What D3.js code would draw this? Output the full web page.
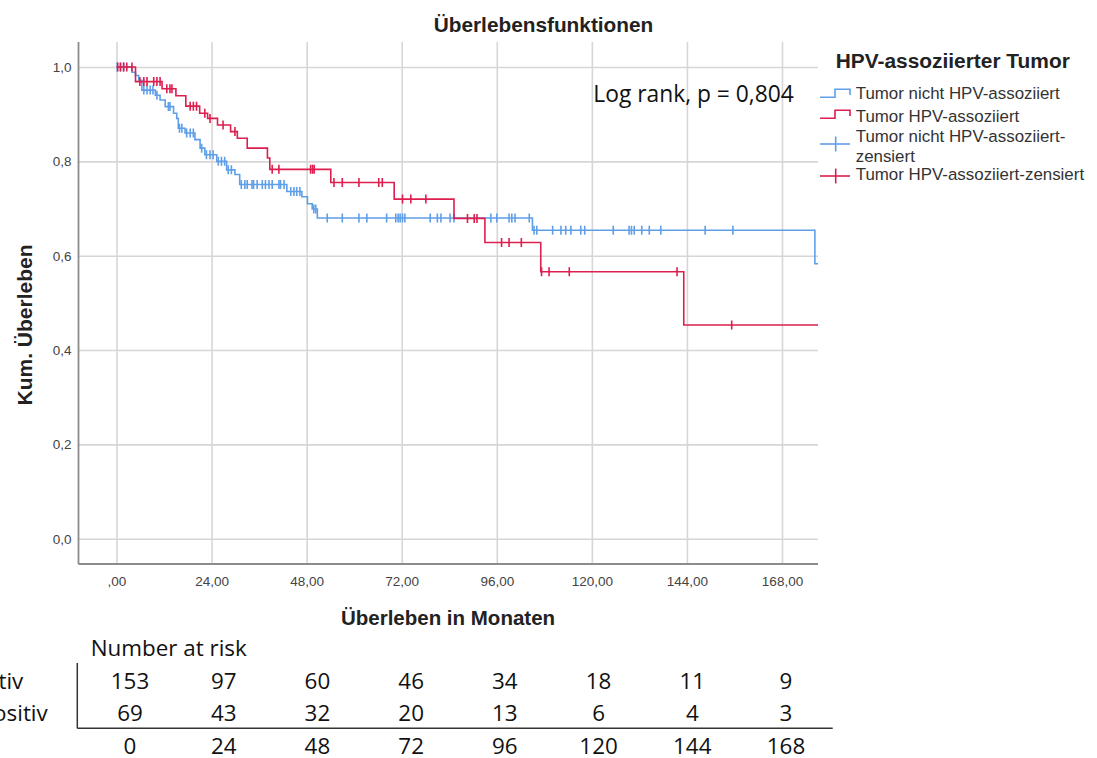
<!DOCTYPE html>
<html>
<head>
<meta charset="utf-8">
<script src="https://cdn.jsdelivr.net/npm/d3@7"></script>
<style>
  body { margin: 0; background: #fff; }
  svg { display: block; }
</style>
</head>
<body>
<svg id="chart" width="1097" height="758"></svg>
<script>
// Kaplan–Meier steps: time (months) of each drop and survival after it
const negTimes = [0, 3.9, 4.8, 5.6, 6.4, 9.8, 11.0, 12.3, 14.4, 15.2, 15.6, 17.3, 19.8, 21.1, 22.3, 25.3, 27.8, 29.9, 31.1, 43.0, 46.8, 48.2, 49.4, 50.7, 105.0, 176.3];
const negSurv  = [1.0, 0.989, 0.982, 0.972, 0.951, 0.940, 0.930, 0.916, 0.902, 0.891, 0.870, 0.860, 0.846, 0.828, 0.814, 0.800, 0.782, 0.772, 0.751, 0.736, 0.725, 0.710, 0.699, 0.680, 0.654, 0.583];
const negEnd = 177.1;
const negCensored = [0.2, 1.0, 1.8, 6.9, 7.7, 8.5, 9.2, 10.2, 13.1, 13.5, 15.9, 16.5, 17.7, 18.6, 19.4, 21.5, 22.7, 23.6, 24.4, 25.7, 26.5, 27.3, 28.2, 29.0, 31.5, 32.4, 33.0, 34.2, 34.6, 35.5, 36.8, 37.6, 38.5, 39.3, 41.0, 41.4, 42.3, 44.0, 44.8, 45.5, 46.3, 49.8, 50.3, 53.2, 57.0, 61.2, 63.2, 68.2, 70.5, 71.1, 71.6, 72.2, 72.8, 79.2, 81.0, 81.9, 84.2, 85.2, 94.5, 96.0, 99.1, 99.8, 100.6, 104.2, 105.4, 106.1, 110.1, 112.2, 113.4, 114.7, 117.2, 118.2, 125.4, 129.4, 130.0, 130.7, 132.6, 134.5, 137.4, 148.6, 155.6];

const posTimes = [0, 4.8, 11.5, 15.0, 17.5, 21.0, 23.0, 25.5, 28.8, 30.5, 33.0, 38.1, 38.7, 54.1, 70.1, 85.2, 93.0, 107.1, 143.2];
const posSurv  = [1.0, 0.969, 0.954, 0.939, 0.917, 0.902, 0.891, 0.877, 0.863, 0.849, 0.828, 0.807, 0.783, 0.755, 0.720, 0.679, 0.628, 0.566, 0.453];
const posEnd = 177.1;
const posCensored = [0.3, 1.0, 1.8, 2.6, 3.9, 5.9, 6.9, 7.7, 9.4, 10.2, 11.0, 12.7, 13.5, 14.0, 18.6, 19.4, 20.2, 22.3, 23.6, 26.9, 29.9, 39.3, 41.0, 49.0, 49.5, 49.9, 54.9, 57.0, 61.2, 66.2, 67.1, 72.2, 74.3, 78.1, 88.6, 90.3, 91.0, 97.2, 99.1, 102.2, 107.3, 109.2, 114.3, 141.5, 155.3];

// axis ticks
const xTickValues = [0, 24, 48, 72, 96, 120, 144, 168];
const yTickValues = [0, 0.2, 0.4, 0.6, 0.8, 1.0];

// number-at-risk table
const riskTimes = [0, 24, 48, 72, 96, 120, 144, 168];
const riskNegativ = [153, 97, 60, 46, 34, 18, 11, 9];
const riskPositiv = [69, 43, 32, 20, 13, 6, 4, 3];
const riskRowLabels = ["HPV-negativ", "HPV-positiv"];

const groupNames = ["Tumor nicht HPV-assoziiert", "Tumor HPV-assoziiert"];
const censorNames = [["Tumor nicht HPV-assoziiert-", "zensiert"], ["Tumor HPV-assoziiert-zensiert"]];

const BLUE = "#5f9fe8";
const RED = "#dc1f4e";
const GRID = "#d6d6d6";
const AXIS = "#8c8c8c";
const ARIAL = "'Liberation Sans', Arial, sans-serif";
const OFFICE = "'Open Sans', 'Noto Sans', sans-serif";

const svg = d3.select("#chart");

// plot frame
const plot = { left: 78.5, right: 818, top: 42, bottom: 564 };
const x = d3.scaleLinear().domain([0, 168]).range([116.5, 782]);
const y = d3.scaleLinear().domain([0, 1]).range([538.7, 67]);

const fmtX = d => d === 0 ? ",00" : d.toFixed(2).replace(".", ",");
const fmtY = d => d.toFixed(1).replace(".", ",");

// gridlines + tick labels
const xAxis = svg.append("g")
  .attr("transform", `translate(0,${plot.bottom})`)
  .call(d3.axisBottom(x).tickValues(xTickValues).tickFormat(fmtX)
    .tickSize(-(plot.bottom - plot.top)).tickPadding(12));
const yAxis = svg.append("g")
  .attr("transform", `translate(${plot.left},0)`)
  .call(d3.axisLeft(y).tickValues(yTickValues).tickFormat(fmtY)
    .tickSize(-(plot.right - plot.left)).tickPadding(7));

[xAxis, yAxis].forEach(g => {
  g.select(".domain").remove();
  g.selectAll(".tick line").attr("stroke", GRID).attr("stroke-width", 1.6);
  g.selectAll(".tick text")
    .attr("font-family", ARIAL).attr("font-size", 13.5).attr("fill", "#444");
});

// axis lines
svg.append("line")
  .attr("x1", plot.left).attr("x2", plot.left)
  .attr("y1", plot.top).attr("y2", plot.bottom)
  .attr("stroke", AXIS).attr("stroke-width", 1.8);
svg.append("line")
  .attr("x1", plot.left).attr("x2", plot.right)
  .attr("y1", plot.bottom).attr("y2", plot.bottom)
  .attr("stroke", AXIS).attr("stroke-width", 1.8);

// titles
svg.append("text")
  .attr("x", 543.5).attr("y", 32.3).attr("text-anchor", "middle")
  .attr("font-family", ARIAL).attr("font-weight", "bold").attr("font-size", 20.8)
  .attr("fill", "#222").text("Überlebensfunktionen");
svg.append("text")
  .attr("x", 448).attr("y", 625).attr("text-anchor", "middle")
  .attr("font-family", ARIAL).attr("font-weight", "bold").attr("font-size", 20.5)
  .attr("fill", "#222").text("Überleben in Monaten");
svg.append("text")
  .attr("transform", "translate(32,325) rotate(-90)").attr("text-anchor", "middle")
  .attr("font-family", ARIAL).attr("font-weight", "bold").attr("font-size", 21)
  .attr("fill", "#222").text("Kum. Überleben");

// survival curves
svg.append("clipPath").attr("id", "plotClip")
  .append("rect")
  .attr("x", plot.left).attr("y", plot.top)
  .attr("width", plot.right - plot.left).attr("height", plot.bottom - plot.top);

const survivalAt = (times, surv, t) => {
  let s = surv[0];
  for (let i = 0; i < times.length; i++) if (times[i] <= t) s = surv[i];
  return s;
};

const stepLine = d3.line()
  .x(d => x(d[0])).y(d => y(d[1]))
  .curve(d3.curveStepAfter);

const curves = svg.append("g").attr("clip-path", "url(#plotClip)");

function drawGroup(times, surv, end, censored, color) {
  const pts = times.map((t, i) => [t, surv[i]]);
  pts.push([end, surv[surv.length - 1]]);
  curves.append("path")
    .attr("d", stepLine(pts))
    .attr("fill", "none").attr("stroke", color).attr("stroke-width", 1.6);
  curves.append("g").selectAll("line")
    .data(censored)
    .join("line")
    .attr("x1", t => x(t)).attr("x2", t => x(t))
    .attr("y1", t => y(survivalAt(times, surv, t)) - 4.5)
    .attr("y2", t => y(survivalAt(times, surv, t)) + 4.5)
    .attr("stroke", color).attr("stroke-width", 1.6);
}

drawGroup(negTimes, negSurv, negEnd, negCensored, BLUE);
drawGroup(posTimes, posSurv, posEnd, posCensored, RED);

// log-rank annotation
svg.append("text")
  .attr("x", 593.3).attr("y", 101.7)
  .attr("font-family", OFFICE).attr("font-size", 22.8).attr("fill", "#111")
  .text("Log rank, p = 0,804");

// legend
const legend = svg.append("g");
legend.append("text")
  .attr("x", 835.7).attr("y", 68.3)
  .attr("font-family", ARIAL).attr("font-weight", "bold").attr("font-size", 20.9)
  .attr("fill", "#222").text("HPV-assoziierter Tumor");

const stepSym = (yLow, yHigh, yEnd) => `M820,${yLow}H835V${yHigh}H850V${yEnd}`;
legend.append("path").attr("d", stepSym(97.3, 89.3, 95))
  .attr("fill", "none").attr("stroke", BLUE).attr("stroke-width", 1.6);
legend.append("path").attr("d", stepSym(118.3, 110.3, 116))
  .attr("fill", "none").attr("stroke", RED).attr("stroke-width", 1.6);

const crossSym = (g, cy, color) => {
  g.append("line").attr("x1", 820).attr("x2", 850).attr("y1", cy).attr("y2", cy)
    .attr("stroke", color).attr("stroke-width", 1.6);
  g.append("line").attr("x1", 835.7).attr("x2", 835.7).attr("y1", cy - 7.5).attr("y2", cy + 7.5)
    .attr("stroke", color).attr("stroke-width", 1.6);
};
crossSym(legend, 144, BLUE);
crossSym(legend, 176, RED);

const legendText = (lines, baseline) => {
  lines.forEach((s, i) => {
    legend.append("text")
      .attr("x", 855.7).attr("y", baseline + i * 20)
      .attr("font-family", ARIAL).attr("font-size", 16.9).attr("fill", "#333")
      .text(s);
  });
};
legendText([groupNames[0]], 99.3);
legendText([groupNames[1]], 121.7);
legendText(censorNames[0], 141.7);
legendText(censorNames[1], 180);

// number-at-risk table
const xr = d3.scaleLinear().domain([0, 168]).range([130, 786]);
const table = svg.append("g")
  .attr("font-family", OFFICE).attr("font-size", 22.4).attr("fill", "#111");

table.append("text").attr("x", 90.7).attr("y", 656).text("Number at risk");

table.append("text").attr("x", 23.3).attr("y", 689.3).attr("text-anchor", "end").text(riskRowLabels[0]);
table.append("text").attr("x", 47.7).attr("y", 720.7).attr("text-anchor", "end").text(riskRowLabels[1]);

[[riskNegativ, 689.3], [riskPositiv, 720.7]].forEach(([vals, yy]) => {
  table.append("g").selectAll("text")
    .data(vals)
    .join("text")
    .attr("x", (d, i) => xr(riskTimes[i])).attr("y", yy)
    .attr("text-anchor", "middle").text(d => d);
});
table.append("g").selectAll("text")
  .data(riskTimes)
  .join("text")
  .attr("x", d => xr(d)).attr("y", 753.5)
  .attr("text-anchor", "middle").text(d => d);

table.append("line")
  .attr("x1", 77.3).attr("x2", 77.3).attr("y1", 663).attr("y2", 728.3)
  .attr("stroke", "#333").attr("stroke-width", 1.5);
table.append("line")
  .attr("x1", 77.3).attr("x2", 832.7).attr("y1", 728.3).attr("y2", 728.3)
  .attr("stroke", "#333").attr("stroke-width", 1.5);
</script>
</body>
</html>
